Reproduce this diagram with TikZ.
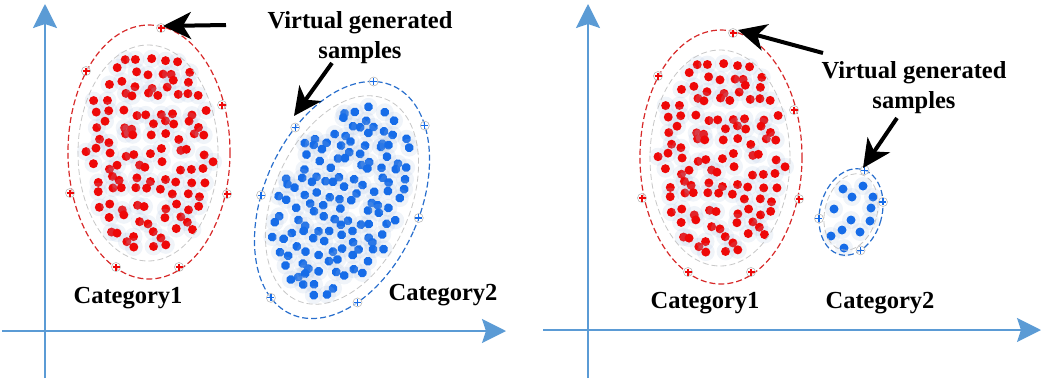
\documentclass[tikz,border=0pt]{standalone}
\usepackage{fontspec}
\setmainfont{Liberation Serif}
\usetikzlibrary{arrows.meta}

\definecolor{axisblue}{RGB}{91,155,213}
\definecolor{dotred}{RGB}{238,8,8}
\definecolor{dotblue}{RGB}{22,108,232}
\definecolor{glowblue}{RGB}{160,185,220}
\definecolor{dashred}{RGB}{215,40,40}
\definecolor{dashblue}{RGB}{40,110,205}

\begin{document}
\begin{tikzpicture}[
    x=1pt, y=-1pt,
    axis/.style={draw=axisblue, line width=2pt, -{Stealth[length=24pt,width=24pt,inset=4pt]}},
    callout/.style={draw=black, line width=4pt, -{Stealth[length=28pt,width=27pt,inset=8pt]}},
    glow/.style={fill=glowblue, opacity=0.16},
    reddot/.style={fill=dotred},
    bluedot/.style={fill=dotblue},
    reddash/.style={draw=dashred, line width=1.2pt, dash pattern=on 6pt off 3pt},
    bluedash/.style={draw=dashblue, line width=1.2pt, dash pattern=on 6pt off 3pt},
    graydash/.style={draw=gray!45, line width=0.8pt, dash pattern=on 6pt off 3pt},
    cattext/.style={font=\bfseries\fontsize{24.5}{30}\selectfont, inner sep=0pt},
    vsample/.pic={
      \draw[gray!55, line width=0.6pt, fill=white, fill opacity=0.6] (0,0) circle (4.5);
      \draw[line width=1.2pt] (-3.5,0) -- (3.5,0) (0,-3.5) -- (0,3.5);
    },
    redcluster/.pic={
      \pgfmathsetseed{11}
      \foreach \i in {-5,...,5}{
        \foreach \j in {-8,...,8}{
          \pgfmathsetmacro\px{\i*13.5+5*rand}
          \pgfmathsetmacro\py{\j*13.5+5*rand}
          \pgfmathtruncatemacro\inside{(\px*\px/4356+\py*\py/10816)<1}
          \ifnum\inside=1
            \fill[glow] (\px,\py) circle (9);
            \fill[reddot] (\px,\py) circle (4.5);
          \fi
        }
      }
      \draw[graydash] (-1,1) ellipse [x radius=70, y radius=108];
      \draw[reddash] (0,0) ellipse [x radius=81, y radius=127];
      \foreach \mx/\my in {12/-124, -63/-81, 73/-47, -79/41, 78/42, -33/115, 30/115}
        \pic[dotred] at (\mx,\my) {vsample};
    },
    bluecluster/.pic={
      \pgfmathsetseed{5}
      \foreach \i in {-6,...,6}{
        \foreach \j in {-9,...,9}{
          \pgfmathsetmacro\px{\i*12+4.5*rand}
          \pgfmathsetmacro\py{\j*12+4.5*rand}
          \pgfmathtruncatemacro\inside{(\px*\px/3844+\py*\py/10404)<1}
          \ifnum\inside=1
            \fill[glow] (\px,\py) circle (9);
            \fill[bluedot] (\px,\py) circle (4.5);
          \fi
        }
      }
      \draw[graydash] (0,0) ellipse [x radius=68, y radius=110];
      \draw[bluedash] (0,0) ellipse [x radius=78, y radius=125];
      \foreach \t in {255.7, 202.2, 305.6, 166.8, 353.2, 108.8, 44.3}
        \pic[dotblue] at ({78*cos(\t)},{125*sin(\t)}) {vsample};
    }
  ]
  \useasboundingbox (0,0) rectangle (1050,378);

  % left panel
  \coordinate (yL0) at (45,378);
  \coordinate (yL1) at (45,4);
  \coordinate (xL0) at (2,331);
  \coordinate (xL1) at (506,331);
  \draw[axis] (yL0) -- (yL1);
  \draw[axis] (xL0) -- (xL1);

  \pic at (149,152) {redcluster};
  \pic[rotate=-24] at (342,200) {bluecluster};

  \node[cattext] (cat1L) at (128,298) {Category1};
  \node[cattext] (cat2L) at (443,295) {Category2};
  \node[cattext, align=center, anchor=north] (virtL) at (360,11) {Virtual generated\\samples};

  \coordinate (tailA) at (226,25);
  \coordinate (tipA) at (163,26);
  \coordinate (tailB) at (332,63);
  \coordinate (tipB) at (294,116);
  \draw[callout] (tailA) -- (tipA);
  \draw[callout] (tailB) -- (tipB);

  % right panel
  \coordinate (yR0) at (588,378);
  \coordinate (yR1) at (588,4);
  \coordinate (xR0) at (543,330);
  \coordinate (xR1) at (1041,330);
  \draw[axis] (yR0) -- (yR1);
  \draw[axis] (xR0) -- (xR1);

  \pic at (721,157) {redcluster};

  \foreach \dx/\dy in {843/189, 863/186, 852/197, 873/197, 834/209, 871/208,
                       851/220, 870/221, 842/230, 860/232, 831/236, 844/248}{
    \fill[glow] (\dx,\dy) circle (9);
    \fill[bluedot] (\dx,\dy) circle (4.5);
  }
  \begin{scope}[shift={(851,212)}, rotate=-15]
    \draw[graydash] (0,0) ellipse [x radius=26, y radius=39];
    \draw[bluedash] (0,0) ellipse [x radius=31, y radius=44];
    \foreach \t in {160.7, 51.9, 274.3, 335.9}
      \pic[dotblue] at ({31*cos(\t)},{44*sin(\t)}) {vsample};
  \end{scope}

  \node[cattext] (cat1R) at (705,303) {Category1};
  \node[cattext] (cat2R) at (880,303) {Category2};
  \node[cattext, align=center, anchor=north] (virtR) at (914,61) {Virtual generated\\samples};

  \coordinate (tailC) at (823,53);
  \coordinate (tipC) at (738,30);
  \coordinate (tailD) at (897,118);
  \coordinate (tipD) at (863,168);
  \draw[callout] (tailC) -- (tipC);
  \draw[callout] (tailD) -- (tipD);
\end{tikzpicture}
\end{document}
